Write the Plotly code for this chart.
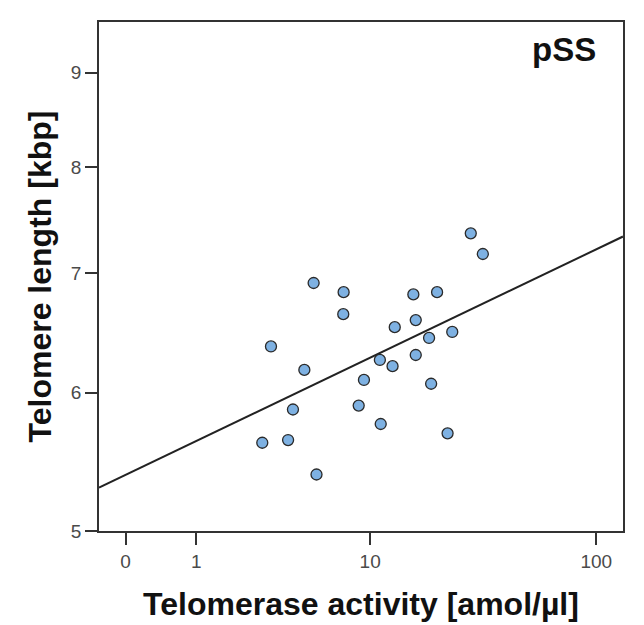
import numpy as np
import plotly.graph_objects as go

# Telomerase activity [amol/µl] and telomere length [kbp] (pSS group)
activity = [28.5, 32.2, 5.32, 7.48, 15.8, 20.2, 7.45, 16.2, 13.0, 23.6, 18.6, 3.16, 16.2,
            11.1, 12.7, 4.77, 9.35, 19.0, 4.16, 8.83, 11.2, 22.5, 3.92, 2.82, 5.50]
length = [7.36, 7.17, 6.91, 6.83, 6.81, 6.83, 6.64, 6.59, 6.53, 6.49, 6.44, 6.37, 6.30,
          6.26, 6.21, 6.18, 6.10, 6.07, 5.87, 5.90, 5.76, 5.69, 5.64, 5.62, 5.39]

x_ticks = [0, 1, 10, 100]
y_ticks = [5, 6, 7, 8, 9]

# axes are log(value + 1)
xs = np.array(activity) + 1
ys = np.array(length) + 1
x_range = [-0.1132, 2.118]
y_range = [np.log10(6), 1.0245]

slope, intercept = np.polyfit(np.log10(xs), np.log10(ys), 1)
lx = np.array(x_range)
ly = intercept + slope * lx

fig = go.Figure()
fig.add_trace(go.Scatter(x=10 ** lx, y=10 ** ly, mode="lines",
                         line=dict(color="#222222", width=2), hoverinfo="skip"))
fig.add_trace(go.Scatter(x=xs, y=ys, mode="markers",
                         marker=dict(size=11, color="#7eb1e2",
                                     line=dict(color="#2a2a2a", width=1.3))))

font_tick = dict(family="Liberation Sans, Arial", size=19, color="#4a4a4a")
font_title = dict(family="Liberation Sans, Arial", size=32, color="#111111")

fig.update_layout(
    width=644, height=625,
    margin=dict(l=99, r=21, t=22, b=94),
    paper_bgcolor="white", plot_bgcolor="white",
    showlegend=False,
    xaxis=dict(type="log", range=x_range, tickvals=[v + 1 for v in x_ticks],
               ticktext=[str(v) for v in x_ticks], showgrid=False, zeroline=False,
               showline=True, mirror=True, linecolor="#333333", linewidth=1.5,
               ticks="outside", ticklen=12, tickwidth=1.5, tickcolor="#333333",
               tickfont=font_tick, automargin=False,
               title=dict(text="<b>Telomerase activity [amol/µl]</b>", font=font_title, standoff=22)),
    yaxis=dict(type="log", range=y_range, tickvals=[v + 1 for v in y_ticks],
               ticktext=[str(v) for v in y_ticks], showgrid=False, zeroline=False,
               showline=True, mirror=True, linecolor="#333333", linewidth=1.5,
               ticks="outside", ticklen=12, tickwidth=1.5, tickcolor="#333333",
               tickfont=font_tick, automargin=False,
               title=dict(text="<b>Telomere length [kbp]</b>", font=font_title, standoff=10)),
    annotations=[dict(text="<b>pSS</b>", xref="paper", yref="paper", x=0.952, y=0.945,
                      xanchor="right", yanchor="middle", showarrow=False,
                      font=dict(family="Liberation Sans, Arial", size=33, color="#111111"))],
)

fig.write_html("out.html")
